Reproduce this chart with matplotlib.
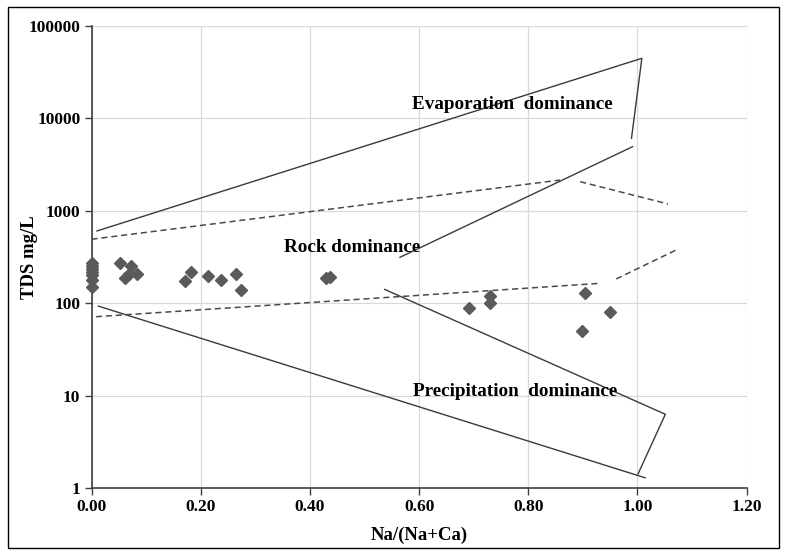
import matplotlib
matplotlib.use("Agg")
import matplotlib.pyplot as plt
from matplotlib.patches import Rectangle
from matplotlib.ticker import FixedLocator, NullLocator, FixedFormatter

plt.rcParams['font.family'] = ['Liberation Serif', 'DejaVu Serif']

# ---- data ----
na_ratio = [0, 0, 0, 0, 0, 0, 0,
            0.052, 0.072, 0.061, 0.069, 0.083,
            0.171, 0.182, 0.213, 0.237, 0.264, 0.274,
            0.430, 0.437,
            0.692, 0.729, 0.729, 0.903, 0.899, 0.950]
tds = [275, 255, 235, 220, 200, 180, 148,
       274, 255, 186, 206, 207,
       175, 219, 199, 177, 207, 140,
       187, 190,
       88, 121, 100, 130, 50, 80]

# Gibbs boundary lines (x, TDS)
evap_upper_x = [0.010, 1.008, 0.989]
evap_upper_y = [605, 44700, 6090]
rock_upper_x = [0.565, 0.991]
rock_upper_y = [314, 4940]
dash_upper1_x = [0.0, 0.858]
dash_upper1_y = [492, 2150]
dash_upper2_x = [0.895, 1.056]
dash_upper2_y = [2065, 1185]
dash_lower1_x = [0.008, 0.931]
dash_lower1_y = [71.4, 164]
dash_lower2_x = [0.961, 1.071]
dash_lower2_y = [183, 377]
prec_lower_x = [0.0125, 1.014]
prec_lower_y = [93, 1.29]
prec_right_x = [0.537, 1.051, 1.001]
prec_right_y = [141, 6.28, 1.42]

x_ticks = [0.0, 0.2, 0.4, 0.6, 0.8, 1.0, 1.2]
x_tick_labels = ["0.00", "0.20", "0.40", "0.60", "0.80", "1.00", "1.20"]
y_ticks = [1, 10, 100, 1000, 10000, 100000]
y_tick_labels = ["1", "10", "100", "1000", "10000", "100000"]

labels = ["Evaporation  dominance", "Rock dominance", "Precipitation  dominance"]
label_x = [0.770, 0.477, 0.776]
label_y = [14200, 400, 11.0]

# ---- figure ----
fig = plt.figure(figsize=(7.85, 5.55), dpi=100)
ax = fig.add_axes([0.1166, 0.1207, 0.8346, 0.8325])

ax.set_xlim(0, 1.2)
ax.set_yscale('log')
ax.set_ylim(1, 100000)

ax.grid(True, color='#d9d9d9', linewidth=0.9, zorder=0)
ax.set_axisbelow(True)

line_col = '#3a3a3a'
ax.plot(evap_upper_x, evap_upper_y, color=line_col, lw=1.0, zorder=2)
ax.plot(rock_upper_x, rock_upper_y, color=line_col, lw=1.0, zorder=2)
ax.plot(prec_lower_x, prec_lower_y, color=line_col, lw=1.0, zorder=2)
ax.plot(prec_right_x, prec_right_y, color=line_col, lw=1.0, zorder=2)
dcol = '#4a4a4a'
for xs, ys in [(dash_upper1_x, dash_upper1_y), (dash_upper2_x, dash_upper2_y),
               (dash_lower1_x, dash_lower1_y), (dash_lower2_x, dash_lower2_y)]:
    ax.plot(xs, ys, color=dcol, lw=1.1, linestyle=(0, (4, 2.5)), zorder=2)

ax.plot(na_ratio, tds, linestyle='none', marker='D', markersize=6,
        color='#5a5a5a', markeredgecolor='#5a5a5a', zorder=3, clip_on=False)

for t, lx, ly in zip(labels, label_x, label_y):
    ax.text(lx, ly, t, fontsize=13.8, fontweight='bold', ha='center', va='center', zorder=4)

ax.xaxis.set_major_locator(FixedLocator(x_ticks))
ax.xaxis.set_major_formatter(FixedFormatter(x_tick_labels))
ax.yaxis.set_major_locator(FixedLocator(y_ticks))
ax.yaxis.set_major_formatter(FixedFormatter(y_tick_labels))
ax.yaxis.set_minor_locator(NullLocator())

for s in ['top', 'right']:
    ax.spines[s].set_visible(False)
for s in ['left', 'bottom']:
    ax.spines[s].set_color('#404040')
    ax.spines[s].set_linewidth(1.2)

ax.tick_params(axis='both', which='major', direction='out', length=5, width=1,
               color='#404040', labelsize=12.5)
ax.tick_params(axis='x', pad=3)
ax.tick_params(axis='y', pad=3)
for lab in ax.get_xticklabels() + ax.get_yticklabels():
    lab.set_fontweight('bold')

ax.set_xlabel("Na/(Na+Ca)", fontsize=13.5, fontweight='bold')
ax.set_ylabel("TDS mg/L", fontsize=13.5, fontweight='bold')
ax.xaxis.set_label_coords(0.5, -0.083)
ax.yaxis.set_label_coords(-0.082, 0.5)

fig.patches.append(Rectangle((8/785, 1-548/555), 771/785, 541/555, transform=fig.transFigure,
                             fill=False, edgecolor='black', linewidth=1.0))

fig.savefig("out.png", dpi=100)
